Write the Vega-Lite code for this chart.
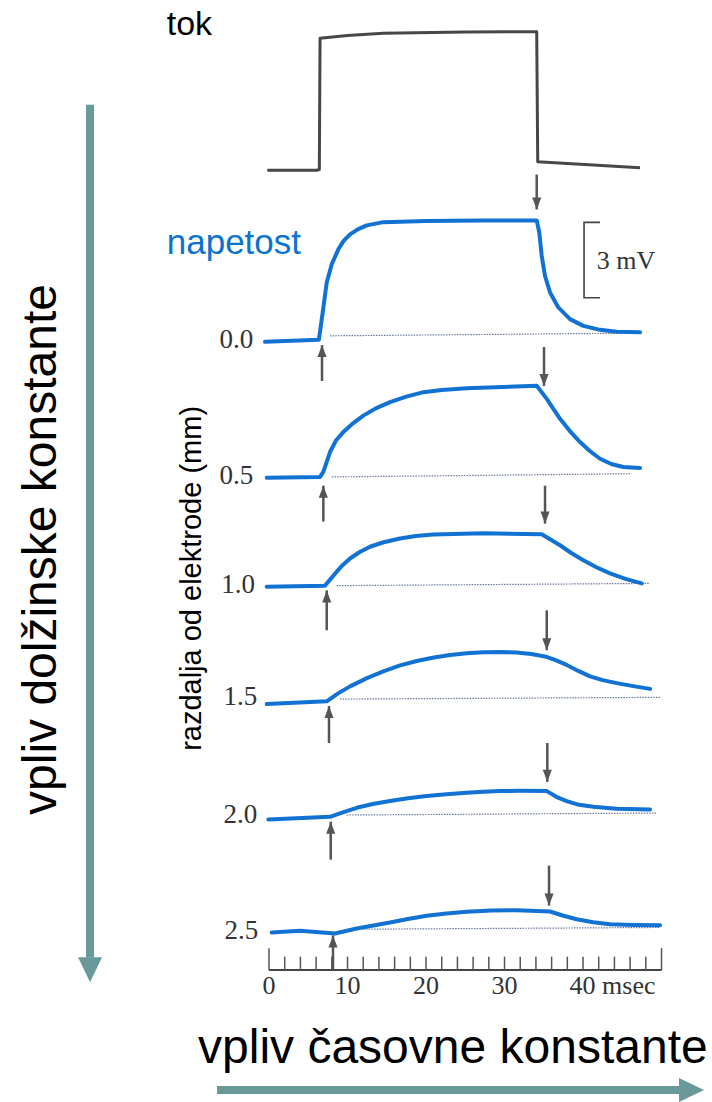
{
  "$schema": "https://vega.github.io/schema/vega-lite/v6.json",
  "width": 712,
  "height": 1102,
  "autosize": {"type": "fit", "contains": "padding"},
  "padding": 0,
  "background": "white",
  "config": {"view": {"stroke": null}},
  "datasets": {
    "current": [
      {"t": -0.22, "v": 37.25}, {"t": 6.08, "v": 37.25}, {"t": 6.41, "v": 37.28}, {"t": 6.5, "v": 42.55},
      {"t": 10.0, "v": 42.66}, {"t": 14.56, "v": 42.75}, {"t": 25.0, "v": 42.8}, {"t": 34.1, "v": 42.81},
      {"t": 34.23, "v": 37.59}, {"t": 47.26, "v": 37.35}
    ],
    "traces": [
      {"d": "0.0", "t": -0.51, "v": 30.37}, {"d": "0.0", "t": 6.35, "v": 30.45}, {"d": "0.0", "t": 6.84, "v": 31.55},
      {"d": "0.0", "t": 7.35, "v": 32.75}, {"d": "0.0", "t": 7.99, "v": 33.48}, {"d": "0.0", "t": 8.83, "v": 34.08},
      {"d": "0.0", "t": 9.5, "v": 34.42}, {"d": "0.0", "t": 10.32, "v": 34.68}, {"d": "0.0", "t": 11.3, "v": 34.88},
      {"d": "0.0", "t": 12.45, "v": 35.04}, {"d": "0.0", "t": 14.56, "v": 35.17},
      {"d": "0.0", "t": 20.0, "v": 35.22}, {"d": "0.0", "t": 27.3, "v": 35.24}, {"d": "0.0", "t": 34.1, "v": 35.24},
      {"d": "0.0", "t": 34.43, "v": 34.75}, {"d": "0.0", "t": 34.74, "v": 33.81}, {"d": "0.0", "t": 35.16, "v": 33.01},
      {"d": "0.0", "t": 35.8, "v": 32.35}, {"d": "0.0", "t": 36.85, "v": 31.75}, {"d": "0.0", "t": 38.34, "v": 31.28},
      {"d": "0.0", "t": 40.04, "v": 31.01}, {"d": "0.0", "t": 42.17, "v": 30.85}, {"d": "0.0", "t": 44.29, "v": 30.77},
      {"d": "0.0", "t": 47.26, "v": 30.75},
      {"d": "0.5", "t": -0.29, "v": 24.92}, {"d": "0.5", "t": 6.5, "v": 24.95}, {"d": "0.5", "t": 6.92, "v": 25.15},
      {"d": "0.5", "t": 7.77, "v": 25.95}, {"d": "0.5", "t": 8.5, "v": 26.4}, {"d": "0.5", "t": 9.46, "v": 26.75},
      {"d": "0.5", "t": 10.7, "v": 27.1}, {"d": "0.5", "t": 12.01, "v": 27.41}, {"d": "0.5", "t": 13.6, "v": 27.7},
      {"d": "0.5", "t": 15.41, "v": 27.95}, {"d": "0.5", "t": 17.5, "v": 28.17}, {"d": "0.5", "t": 19.66, "v": 28.35},
      {"d": "0.5", "t": 22.0, "v": 28.44}, {"d": "0.5", "t": 25.18, "v": 28.51},
      {"d": "0.5", "t": 34.1, "v": 28.61}, {"d": "0.5", "t": 35.38, "v": 28.08}, {"d": "0.5", "t": 37.07, "v": 27.28},
      {"d": "0.5", "t": 38.3, "v": 26.8}, {"d": "0.5", "t": 39.62, "v": 26.35}, {"d": "0.5", "t": 40.9, "v": 25.98},
      {"d": "0.5", "t": 42.17, "v": 25.68}, {"d": "0.5", "t": 43.6, "v": 25.47}, {"d": "0.5", "t": 45.13, "v": 25.35},
      {"d": "0.5", "t": 47.26, "v": 25.31},
      {"d": "1.0", "t": -0.29, "v": 20.55}, {"d": "1.0", "t": 7.13, "v": 20.59}, {"d": "1.0", "t": 8.62, "v": 21.15},
      {"d": "1.0", "t": 9.4, "v": 21.42}, {"d": "1.0", "t": 10.32, "v": 21.68}, {"d": "1.0", "t": 11.5, "v": 21.93},
      {"d": "1.0", "t": 12.87, "v": 22.15}, {"d": "1.0", "t": 14.6, "v": 22.33}, {"d": "1.0", "t": 16.69, "v": 22.48},
      {"d": "1.0", "t": 18.7, "v": 22.58}, {"d": "1.0", "t": 20.93, "v": 22.64}, {"d": "1.0", "t": 27.3, "v": 22.69},
      {"d": "1.0", "t": 34.74, "v": 22.65}, {"d": "1.0", "t": 37.07, "v": 22.21}, {"d": "1.0", "t": 38.5, "v": 21.9},
      {"d": "1.0", "t": 40.04, "v": 21.61}, {"d": "1.0", "t": 41.7, "v": 21.33}, {"d": "1.0", "t": 43.44, "v": 21.08},
      {"d": "1.0", "t": 45.4, "v": 20.86}, {"d": "1.0", "t": 47.48, "v": 20.68},
      {"d": "1.5", "t": -0.29, "v": 15.84}, {"d": "1.5", "t": 7.35, "v": 15.95}, {"d": "1.5", "t": 8.8, "v": 16.27},
      {"d": "1.5", "t": 10.32, "v": 16.55},
      {"d": "1.5", "t": 12.4, "v": 16.87}, {"d": "1.5", "t": 14.56, "v": 17.15}, {"d": "1.5", "t": 16.7, "v": 17.39},
      {"d": "1.5", "t": 18.82, "v": 17.57}, {"d": "1.5", "t": 21.0, "v": 17.71}, {"d": "1.5", "t": 23.06, "v": 17.81},
      {"d": "1.5", "t": 25.2, "v": 17.88}, {"d": "1.5", "t": 27.3, "v": 17.92}, {"d": "1.5", "t": 29.4, "v": 17.93},
      {"d": "1.5", "t": 31.55, "v": 17.91}, {"d": "1.5", "t": 33.4, "v": 17.85}, {"d": "1.5", "t": 35.16, "v": 17.75},
      {"d": "1.5", "t": 36.5, "v": 17.6},
      {"d": "1.5", "t": 37.92, "v": 17.41}, {"d": "1.5", "t": 39.4, "v": 17.17}, {"d": "1.5", "t": 40.89, "v": 16.95},
      {"d": "1.5", "t": 42.5, "v": 16.8}, {"d": "1.5", "t": 44.29, "v": 16.68}, {"d": "1.5", "t": 46.4, "v": 16.56},
      {"d": "1.5", "t": 48.54, "v": 16.45},
      {"d": "2.0", "t": -0.09, "v": 11.21}, {"d": "2.0", "t": 7.77, "v": 11.32}, {"d": "2.0", "t": 9.4, "v": 11.5},
      {"d": "2.0", "t": 11.17, "v": 11.68}, {"d": "2.0", "t": 13.2, "v": 11.83},
      {"d": "2.0", "t": 15.41, "v": 11.95}, {"d": "2.0", "t": 17.7, "v": 12.06}, {"d": "2.0", "t": 20.09, "v": 12.15},
      {"d": "2.0", "t": 22.6, "v": 12.22}, {"d": "2.0", "t": 25.18, "v": 12.28}, {"d": "2.0", "t": 27.3, "v": 12.32},
      {"d": "2.0", "t": 29.43, "v": 12.35}, {"d": "2.0", "t": 32.0, "v": 12.36}, {"d": "2.0", "t": 35.38, "v": 12.35},
      {"d": "2.0", "t": 36.6, "v": 12.12}, {"d": "2.0", "t": 37.92, "v": 11.95},
      {"d": "2.0", "t": 39.5, "v": 11.8}, {"d": "2.0", "t": 41.31, "v": 11.72}, {"d": "2.0", "t": 44.29, "v": 11.64},
      {"d": "2.0", "t": 48.54, "v": 11.61},
      {"d": "2.5", "t": 0.34, "v": 6.68}, {"d": "2.5", "t": 3.95, "v": 6.75}, {"d": "2.5", "t": 8.41, "v": 6.64},
      {"d": "2.5", "t": 11.17, "v": 6.84}, {"d": "2.5", "t": 13.3, "v": 6.96}, {"d": "2.5", "t": 15.41, "v": 7.08},
      {"d": "2.5", "t": 17.7, "v": 7.22}, {"d": "2.5", "t": 20.09, "v": 7.35}, {"d": "2.5", "t": 22.6, "v": 7.44},
      {"d": "2.5", "t": 25.18, "v": 7.51}, {"d": "2.5", "t": 28.3, "v": 7.56}, {"d": "2.5", "t": 31.55, "v": 7.57},
      {"d": "2.5", "t": 35.8, "v": 7.52}, {"d": "2.5", "t": 37.4, "v": 7.36},
      {"d": "2.5", "t": 39.19, "v": 7.21}, {"d": "2.5", "t": 41.3, "v": 7.09}, {"d": "2.5", "t": 43.44, "v": 7.01},
      {"d": "2.5", "t": 46.5, "v": 6.98}, {"d": "2.5", "t": 49.81, "v": 6.97}
    ],
    "baselines": [
      {"d": "0.0", "t": 7.77, "v": 30.61}, {"d": "0.0", "t": 47.26, "v": 30.72},
      {"d": "0.5", "t": 7.99, "v": 24.95}, {"d": "0.5", "t": 45.99, "v": 25.08},
      {"d": "1.0", "t": 8.62, "v": 20.59}, {"d": "1.0", "t": 48.54, "v": 20.68},
      {"d": "1.5", "t": 9.04, "v": 16.04}, {"d": "1.5", "t": 49.81, "v": 16.11},
      {"d": "2.0", "t": 9.9, "v": 11.39}, {"d": "2.0", "t": 49.39, "v": 11.47},
      {"d": "2.5", "t": 12.01, "v": 6.81}, {"d": "2.5", "t": 49.81, "v": 6.88}
    ],
    "arrows": [
      {"dir": "down", "t": 34.1, "v": 35.68, "v2": 37.08},
      {"dir": "up", "t": 6.75, "v": 30.24, "v2": 28.8},
      {"dir": "down", "t": 35.03, "v": 28.6, "v2": 30.16},
      {"dir": "up", "t": 6.92, "v": 24.6, "v2": 23.16},
      {"dir": "down", "t": 35.16, "v": 23.08, "v2": 24.6},
      {"dir": "up", "t": 7.35, "v": 20.4, "v2": 18.8},
      {"dir": "down", "t": 35.38, "v": 18.0, "v2": 19.6},
      {"dir": "up", "t": 7.64, "v": 15.76, "v2": 14.28},
      {"dir": "down", "t": 35.45, "v": 12.72, "v2": 14.28},
      {"dir": "up", "t": 7.86, "v": 11.12, "v2": 9.6},
      {"dir": "down", "t": 35.67, "v": 7.76, "v2": 9.36},
      {"dir": "up", "t": 8.15, "v": 6.56, "v2": 5.2}
    ],
    "ticks": [
      {"t": 0, "v": 5.17, "v2": 6.05}, {"t": 2, "v": 5.17, "v2": 5.71}, {"t": 4, "v": 5.17, "v2": 5.71},
      {"t": 6, "v": 5.17, "v2": 5.71}, {"t": 8, "v": 5.17, "v2": 5.71}, {"t": 10, "v": 5.17, "v2": 5.71},
      {"t": 12, "v": 5.17, "v2": 5.71}, {"t": 14, "v": 5.17, "v2": 5.71}, {"t": 16, "v": 5.17, "v2": 5.71},
      {"t": 18, "v": 5.17, "v2": 5.71}, {"t": 20, "v": 5.17, "v2": 5.71}, {"t": 22, "v": 5.17, "v2": 5.71},
      {"t": 24, "v": 5.17, "v2": 5.71}, {"t": 26, "v": 5.17, "v2": 5.71}, {"t": 28, "v": 5.17, "v2": 5.71},
      {"t": 30, "v": 5.17, "v2": 5.71}, {"t": 32, "v": 5.17, "v2": 5.71}, {"t": 34, "v": 5.17, "v2": 5.71},
      {"t": 36, "v": 5.17, "v2": 5.71}, {"t": 38, "v": 5.17, "v2": 5.71}, {"t": 40, "v": 5.17, "v2": 5.71},
      {"t": 42, "v": 5.17, "v2": 5.71}, {"t": 44, "v": 5.17, "v2": 5.71}, {"t": 46, "v": 5.17, "v2": 5.71},
      {"t": 48, "v": 5.17, "v2": 5.71}, {"t": 50, "v": 5.17, "v2": 6.05}
    ]
  },
  "encoding": {
    "x": {"field": "t", "type": "quantitative", "scale": {"domain": [-34.27, 56.43], "nice": false, "zero": false}, "axis": null},
    "y": {"field": "v", "type": "quantitative", "scale": {"domain": [0, 44.08], "nice": false, "zero": false}, "axis": null}
  },
  "layer": [
    {
      "data": {"name": "baselines"},
      "mark": {"type": "line", "color": "#6878a0", "strokeWidth": 1.2, "strokeDash": [1.5, 1.2]},
      "encoding": {"detail": {"field": "d"}}
    },
    {
      "data": {"name": "current"},
      "mark": {"type": "line", "color": "#474747", "strokeWidth": 3, "strokeJoin": "round"}
    },
    {
      "data": {"name": "traces"},
      "mark": {"type": "line", "color": "#1172d3", "strokeWidth": 4, "strokeJoin": "round", "strokeCap": "round"},
      "encoding": {"detail": {"field": "d"}}
    },
    {
      "data": {"name": "arrows"},
      "mark": {"type": "rule", "color": "#555555", "strokeWidth": 2.5},
      "encoding": {"y2": {"field": "v2"}}
    },
    {
      "data": {"name": "arrows"},
      "transform": [{"filter": "datum.dir === 'down'"}],
      "mark": {"type": "point", "shape": "M0,0L-0.38,-1L0.38,-1Z", "size": 576, "filled": true, "color": "#555555", "opacity": 1, "strokeWidth": 0}
    },
    {
      "data": {"name": "arrows"},
      "transform": [{"filter": "datum.dir === 'up'"}],
      "mark": {"type": "point", "shape": "M0,0L-0.38,1L0.38,1Z", "size": 576, "filled": true, "color": "#555555", "opacity": 1, "strokeWidth": 0}
    },
    {
      "data": {"values": [{"t": 0, "t2": 50, "v": 5.17}]},
      "mark": {"type": "rule", "color": "#444444", "strokeWidth": 2},
      "encoding": {"x2": {"field": "t2"}}
    },
    {
      "data": {"name": "ticks"},
      "mark": {"type": "rule", "color": "#555555", "strokeWidth": 1.5},
      "encoding": {"y2": {"field": "v2"}}
    },
    {
      "data": {"values": [
        {"label": "0", "t": 0, "v": 4.21}, {"label": "10", "t": 10, "v": 4.21}, {"label": "20", "t": 20, "v": 4.21},
        {"label": "30", "t": 30, "v": 4.21}, {"label": "40 msec", "t": 43.76, "v": 4.21}
      ]},
      "mark": {"type": "text", "font": "Liberation Serif", "fontSize": 26, "color": "#333333", "align": "center", "baseline": "alphabetic"},
      "encoding": {"text": {"field": "label"}}
    },
    {
      "data": {"values": [
        {"label": "0.0", "t": -2.0, "v": 30.11}, {"label": "0.5", "t": -2.0, "v": 24.68},
        {"label": "1.0", "t": -1.78, "v": 20.28}, {"label": "1.5", "t": -1.49, "v": 15.79},
        {"label": "2.0", "t": -1.49, "v": 11.08}, {"label": "2.5", "t": -1.36, "v": 6.41}
      ]},
      "mark": {"type": "text", "font": "Liberation Serif", "fontSize": 27, "color": "#333333", "align": "right", "baseline": "alphabetic"},
      "encoding": {"text": {"field": "label"}}
    },
    {
      "data": {"values": [{"label": "3 mV", "t": 41.75, "v": 33.28}]},
      "mark": {"type": "text", "font": "Liberation Serif", "fontSize": 26, "color": "#333333", "align": "left", "baseline": "alphabetic"},
      "encoding": {"text": {"field": "label"}}
    },
    {
      "data": {"values": [
        {"i": 1, "t": 42.17, "v": 35.16}, {"i": 2, "t": 40.13, "v": 35.16},
        {"i": 3, "t": 40.13, "v": 32.14}, {"i": 4, "t": 42.17, "v": 32.14}
      ]},
      "mark": {"type": "line", "color": "#444444", "strokeWidth": 1.6},
      "encoding": {"order": {"field": "i", "type": "quantitative"}}
    },
    {
      "data": {"values": [{"label": "tok", "t": -13.03, "v": 42.68}]},
      "mark": {"type": "text", "font": "Liberation Sans", "fontSize": 34, "color": "#000000", "align": "left", "baseline": "alphabetic"},
      "encoding": {"text": {"field": "label"}}
    },
    {
      "data": {"values": [{"label": "napetost", "t": -13.03, "v": 33.88}]},
      "mark": {"type": "text", "font": "Liberation Sans", "fontSize": 35, "color": "#0a72d0", "align": "left", "baseline": "alphabetic"},
      "encoding": {"text": {"field": "label"}}
    },
    {
      "data": {"values": [{"label": "razdalja od elektrode (mm)", "t": -8.7, "v": 20.88}]},
      "mark": {"type": "text", "font": "Liberation Sans", "fontSize": 29, "color": "#000000", "align": "center", "baseline": "alphabetic", "angle": 270},
      "encoding": {"text": {"field": "label"}}
    },
    {
      "data": {"values": [{"label": "vpliv dolžinske konstante", "t": -27.13, "v": 22.04}]},
      "mark": {"type": "text", "font": "Liberation Sans", "fontSize": 48, "color": "#000000", "align": "center", "baseline": "alphabetic", "angle": 270},
      "encoding": {"text": {"field": "label"}}
    },
    {
      "data": {"values": [{"label": "vpliv časovne konstante", "t": -9.04, "v": 1.44}]},
      "mark": {"type": "text", "font": "Liberation Sans", "fontSize": 48, "color": "#000000", "align": "left", "baseline": "alphabetic"},
      "encoding": {"text": {"field": "label"}}
    },
    {
      "data": {"values": [{"t": -22.8, "v": 39.88, "v2": 5.68}]},
      "mark": {"type": "rule", "color": "#699999", "strokeWidth": 8},
      "encoding": {"y2": {"field": "v2"}}
    },
    {
      "data": {"values": [{"t": -22.8, "v": 4.68}]},
      "mark": {"type": "point", "shape": "M0,0L-0.48,-1L0.48,-1Z", "size": 2500, "filled": true, "color": "#699999", "opacity": 1, "strokeWidth": 0}
    },
    {
      "data": {"values": [{"t": -6.62, "t2": 52.36, "v": 0.36}]},
      "mark": {"type": "rule", "color": "#699999", "strokeWidth": 8},
      "encoding": {"x2": {"field": "t2"}}
    },
    {
      "data": {"values": [{"t": 55.41, "v": 0.36}]},
      "mark": {"type": "point", "shape": "M0,0L-1,-0.48L-1,0.48Z", "size": 2500, "filled": true, "color": "#699999", "opacity": 1, "strokeWidth": 0}
    }
  ]
}
